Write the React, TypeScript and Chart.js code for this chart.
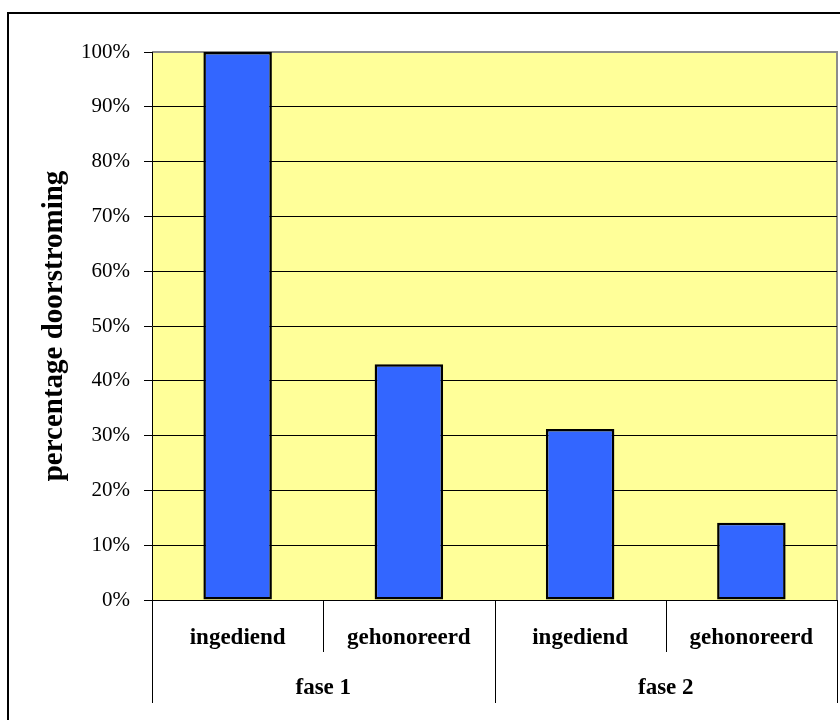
import React, { useEffect, useRef } from 'react';
import { Chart, registerables } from 'chart.js';

Chart.register(...registerables);

const categories = ['ingediend', 'gehonoreerd', 'ingediend', 'gehonoreerd'];
const groups = ['fase 1', 'fase 2'];
const values = [1.0, 0.43, 0.312, 0.141];
const yAxisTitle = 'percentage doorstroming';

const FONT = "'Liberation Serif', 'Times New Roman', serif";

const decor = {
  id: 'decor',
  beforeDraw(chart: any) {
    const { ctx, chartArea: a, width, height } = chart;
    ctx.save();
    ctx.fillStyle = '#ffffff';
    ctx.fillRect(0, 0, width, height);
    ctx.fillStyle = '#FFFF99';
    ctx.fillRect(a.left, a.top, a.right - a.left, a.bottom - a.top);
    // outer frame
    ctx.strokeStyle = '#000';
    ctx.lineWidth = 2;
    ctx.beginPath();
    ctx.moveTo(8, height + 2);
    ctx.lineTo(8, 13);
    ctx.lineTo(width + 2, 13);
    ctx.stroke();
    // plot border top/right
    ctx.strokeStyle = '#8c8c8c';
    ctx.lineWidth = 2;
    ctx.beginPath();
    ctx.moveTo(a.left, a.top);
    ctx.lineTo(a.right, a.top);
    ctx.lineTo(a.right, a.bottom);
    ctx.stroke();
    ctx.restore();
  },
  afterDraw(chart: any) {
    const { ctx, chartArea: a } = chart;
    const x = chart.scales.x;
    const n = categories.length;
    const per = n / groups.length;
    ctx.save();
    ctx.strokeStyle = '#000';
    ctx.lineWidth = 1;
    for (let i = 0; i <= n; i++) {
      const px = Math.round(x.getPixelForDecimal(i / n)) + 0.5;
      const len = i % per === 0 ? 103 : 52;
      ctx.beginPath();
      ctx.moveTo(px, a.bottom);
      ctx.lineTo(px, a.bottom + len);
      ctx.stroke();
    }
    ctx.fillStyle = '#000';
    ctx.font = `bold 23px ${FONT}`;
    ctx.textAlign = 'center';
    ctx.textBaseline = 'middle';
    groups.forEach((g, gi) => {
      const cx = x.getPixelForDecimal((gi * per + per / 2) / n);
      ctx.fillText(g, cx, a.bottom + 88);
    });
    ctx.restore();
  },
};

export default function App() {
  const ref = useRef<HTMLCanvasElement | null>(null);
  useEffect(() => {
    document.body.style.margin = '0';
    const canvas = ref.current!;
    const chart = new Chart(canvas, {
      type: 'bar',
      data: {
        labels: categories,
        datasets: [
          {
            data: values,
            backgroundColor: '#3366FF',
            borderColor: '#000000',
            borderWidth: 2.5,
            borderSkipped: false,
            barPercentage: 0.4,
            categoryPercentage: 1.0,
          },
        ],
      },
      options: {
        animation: false,
        responsive: false,
        devicePixelRatio: 1,
        layout: { padding: { top: 52, right: 3, left: 0, bottom: 0 } },
        plugins: { legend: { display: false }, tooltip: { enabled: false }, title: { display: false } },
        scales: {
          x: {
            afterFit: (s: any) => { s.height = 120; },
            grid: { display: false, drawTicks: false },
            border: { display: true, color: '#000', width: 1 },
            ticks: {
              color: '#000',
              padding: 24,
              font: { family: FONT, size: 23, weight: 'bold' },
              maxRotation: 0,
              autoSkip: false,
            },
          },
          y: {
            min: 0,
            max: 1,
            afterFit: (s: any) => { s.width = 152; },
            border: { display: true, color: '#000', width: 1 },
            grid: {
              color: (c: any) => (c.tick && c.tick.value === 1 ? '#8c8c8c' : '#000'),
              tickColor: '#000',
              tickLength: 8,
              lineWidth: 1,
            },
            ticks: {
              stepSize: 0.1,
              color: '#000',
              padding: 14,
              font: { family: FONT, size: 21 },
              callback: (v: any) => `${Math.round(Number(v) * 100)}%`,
            },
            title: {
              display: true,
              text: yAxisTitle,
              color: '#000',
              font: { family: FONT, size: 29, weight: 'bold' },
              padding: { top: 37, bottom: 0 },
            },
          },
        },
      },
      plugins: [decor],
    });
    return () => chart.destroy();
  }, []);
  return (
    <div style={{ width: 840, height: 720 }}>
      <canvas ref={ref} width={840} height={720} style={{ display: 'block' }} />
    </div>
  );
}
